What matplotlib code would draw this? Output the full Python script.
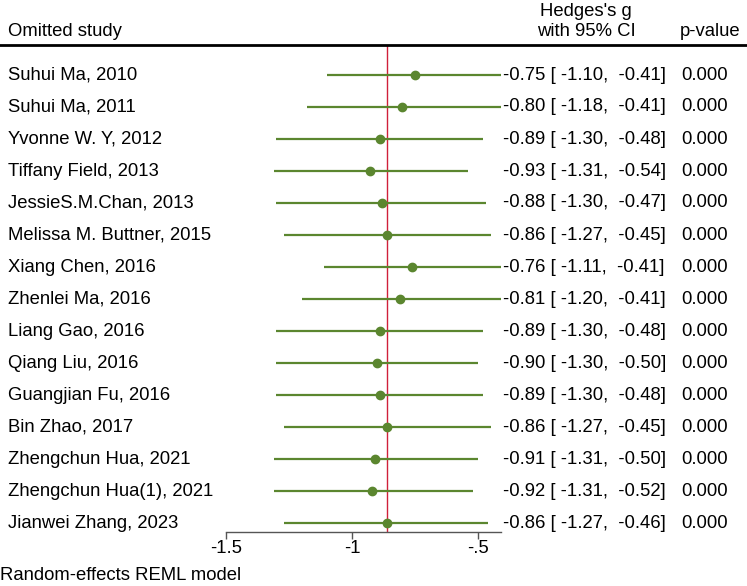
import matplotlib
matplotlib.use("Agg")
import matplotlib.pyplot as plt

plt.rcParams['font.family'] = ['Liberation Sans', 'DejaVu Sans']

studies = ["Suhui Ma, 2010", "Suhui Ma, 2011", "Yvonne W. Y, 2012", "Tiffany Field, 2013",
           "JessieS.M.Chan, 2013", "Melissa M. Buttner, 2015", "Xiang Chen, 2016",
           "Zhenlei Ma, 2016", "Liang Gao, 2016", "Qiang Liu, 2016", "Guangjian Fu, 2016",
           "Bin Zhao, 2017", "Zhengchun Hua, 2021", "Zhengchun Hua(1), 2021",
           "Jianwei Zhang, 2023"]
est = [-0.75, -0.80, -0.89, -0.93, -0.88, -0.86, -0.76, -0.81, -0.89, -0.90, -0.89,
       -0.86, -0.91, -0.92, -0.86]
lo = [-1.10, -1.18, -1.30, -1.31, -1.30, -1.27, -1.11, -1.20, -1.30, -1.30, -1.30,
      -1.27, -1.31, -1.31, -1.27]
hi = [-0.41, -0.41, -0.48, -0.54, -0.47, -0.45, -0.41, -0.41, -0.48, -0.50, -0.48,
      -0.45, -0.50, -0.52, -0.46]
pvals = [0.000] * 15
overall = -0.86
xticks = [-1.5, -1, -0.5]
xticklabels = ["-1.5", "-1", "-.5"]

W, H = 747, 586
fig = plt.figure(figsize=(W / 100, H / 100), dpi=100)

def px(x, y):
    return x / W, 1 - y / H

# forest axes: x pixel = 352 + (v + 1) * 252, rows at 75 + 32*i
x0, x1 = -1.6, -0.35
left = 352 + (x0 + 1) * 252
right = 352 + (x1 + 1) * 252
top_px, bot_px = 46, 532
ax = fig.add_axes([left / W, 1 - bot_px / H, (right - left) / W, (bot_px - top_px) / H])
ax.set_xlim(x0, x1)
ax.set_ylim((bot_px - 75) / 32, (top_px - 75) / 32)

green = "#5b862f"
for i in range(len(studies)):
    ax.plot([lo[i], hi[i]], [i, i], color=green, lw=1.6, solid_capstyle="butt", zorder=2)
    ax.plot(est[i], i, "o", color=green, ms=6, zorder=3)

ax.axvline(overall, color="#d0203a", lw=1.0, zorder=1)

for s in ["top", "left", "right"]:
    ax.spines[s].set_visible(False)
ax.spines["bottom"].set_bounds(-1.5, max(hi))
ax.spines["bottom"].set_color("#555555")
ax.spines["bottom"].set_linewidth(1.0)
ax.set_yticks([])
ax.set_xticks(xticks)
ax.set_xticklabels(xticklabels, fontsize=13.3)
ax.tick_params(axis="x", direction="out", length=5, width=1, color="#555555", pad=1)
ax.patch.set_alpha(0)

# header
fig.add_artist(plt.Line2D([0, 1], [1 - 45 / H, 1 - 45 / H], color="black", lw=2))
fs = 13.3
fig.text(*px(8, 32), "Omitted study", fontsize=fs, va="center", ha="left")
fig.text(*px(586, 12), "Hedges's g", fontsize=fs, va="center", ha="center")
fig.text(*px(586, 32), "with 95% CI", fontsize=fs, va="center", ha="center")
fig.text(*px(710, 32), "p-value", fontsize=fs, va="center", ha="center")

for i, name in enumerate(studies):
    y = 75 + 32 * i
    fig.text(*px(8, y), name, fontsize=fs, va="center", ha="left")
    fig.text(*px(503, y), "%.2f [ %.2f,  %.2f]" % (est[i], lo[i], hi[i]),
             fontsize=fs, va="center", ha="left")
    fig.text(*px(728, y), "%.3f" % pvals[i], fontsize=fs, va="center", ha="right")

fig.text(*px(0, 575), "Random-effects REML model", fontsize=fs, va="center", ha="left")

fig.savefig("out.png", dpi=100)
